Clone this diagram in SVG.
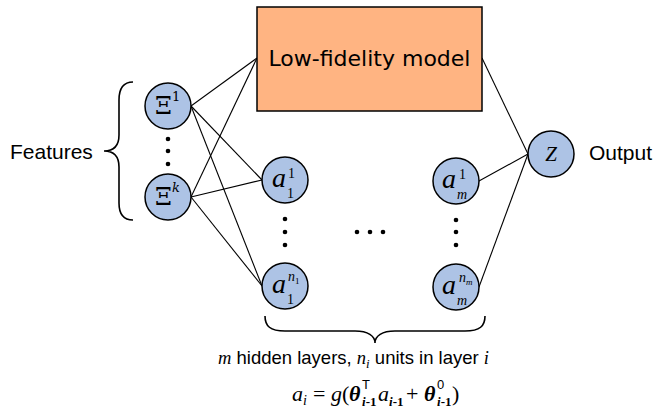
<svg xmlns="http://www.w3.org/2000/svg" width="655" height="409" viewBox="0 0 655 409">
<style>
.node{fill:#adc3e5;stroke:#000;stroke-width:1.5}
.box{fill:#ffb482;stroke:#000;stroke-width:1.5}
.edge{stroke:#000;stroke-width:1.1;fill:none}
.brace{stroke:#000;stroke-width:1.6;fill:none}
.dot{fill:#000}
.sans{font-family:"Liberation Sans",Arial,sans-serif;fill:#000}
.serif{font-family:"Liberation Serif","Times New Roman",serif;fill:#000}
.dv{font-family:"DejaVu Serif",serif;fill:#000}
.it{font-style:italic}
</style>
<rect width="655" height="409" fill="#fff"/>
<g id="connectors">
<line class="edge" x1="191" y1="106" x2="257" y2="58"/>
<line class="edge" x1="191" y1="197" x2="257" y2="58"/>
<line class="edge" x1="191" y1="106" x2="262" y2="180"/>
<line class="edge" x1="191" y1="106" x2="262" y2="286"/>
<line class="edge" x1="191" y1="197" x2="262" y2="180"/>
<line class="edge" x1="191" y1="197" x2="262" y2="286"/>
<line class="edge" x1="482" y1="58" x2="528" y2="154"/>
<line class="edge" x1="479" y1="181" x2="528" y2="154"/>
<line class="edge" x1="479" y1="287" x2="528" y2="154"/>
</g>
<g id="lowfi">
<rect class="box" x="257" y="7" width="225" height="104"/>
<text x="369.5" y="66" text-anchor="middle" font-family="DejaVu Sans,sans-serif" font-size="22">Low-fidelity model</text>
</g>
<g id="xi1">
<circle class="node" cx="168" cy="106" r="23"/>
<text class="dv" x="155" y="114" font-size="24">Ξ</text>
<text class="dv" x="172" y="101" font-size="13">1</text>
</g>
<g id="xik">
<circle class="node" cx="168" cy="197" r="23"/>
<text class="dv" x="155" y="205" font-size="24">Ξ</text>
<text class="dv it" x="172" y="192" font-size="13">k</text>
</g>
<g id="xidots">
<circle class="dot" cx="168" cy="139" r="2.3"/>
<circle class="dot" cx="168" cy="151" r="2.3"/>
<circle class="dot" cx="168" cy="164" r="2.3"/>
</g>
<g id="a11">
<circle class="node" cx="285" cy="180" r="23"/>
<text class="serif it" x="272" y="187" font-size="28">a</text>
<text class="serif" x="288" y="178" font-size="14">1</text>
<text class="serif" x="287" y="198" font-size="14">1</text>
</g>
<g id="a1n">
<circle class="node" cx="285" cy="286" r="23"/>
<text class="serif it" x="272" y="293" font-size="28">a</text>
<text class="serif it" x="288" y="281" font-size="14">n</text>
<text class="serif" x="295" y="284" font-size="9">1</text>
<text class="serif" x="287" y="304" font-size="14">1</text>
</g>
<g id="a1dots">
<circle class="dot" cx="285" cy="219" r="2.3"/>
<circle class="dot" cx="285" cy="232" r="2.3"/>
<circle class="dot" cx="285" cy="245" r="2.3"/>
</g>
<g id="middots">
<circle class="dot" cx="357" cy="232" r="2.3"/>
<circle class="dot" cx="370" cy="232" r="2.3"/>
<circle class="dot" cx="383" cy="232" r="2.3"/>
</g>
<g id="am1">
<circle class="node" cx="456" cy="181" r="23"/>
<text class="serif it" x="442" y="188" font-size="28">a</text>
<text class="serif" x="459" y="179" font-size="14">1</text>
<text class="serif it" x="457" y="199" font-size="14">m</text>
</g>
<g id="amn">
<circle class="node" cx="456" cy="287" r="23"/>
<text class="serif it" x="442" y="294" font-size="28">a</text>
<text class="serif it" x="459" y="282" font-size="14">n</text>
<text class="serif it" x="466" y="285" font-size="9">m</text>
<text class="serif it" x="457" y="305" font-size="14">m</text>
</g>
<g id="amdots">
<circle class="dot" cx="456" cy="220" r="2.3"/>
<circle class="dot" cx="456" cy="232" r="2.3"/>
<circle class="dot" cx="456" cy="245" r="2.3"/>
</g>
<g id="z">
<circle class="node" cx="551" cy="154" r="23"/>
<text class="serif it" x="551" y="161" font-size="21" text-anchor="middle">Z</text>
</g>
<g id="labels">
<text class="sans" x="589" y="160" font-size="21">Output</text>
<text class="sans" x="10" y="159" font-size="21">Features</text>
<path class="brace" d="M133,82 C123,82 119,88 119,100 L119,135 C119,146 113,151 104,151 C113,151 119,156 119,167 L119,203 C119,214 123,220 133,220"/>
<path class="brace" d="M265,316 C265,326 270,331 285,331 L355,331 C368,331 375,336 375,343 C375,336 382,331 395,331 L465,331 C480,331 485,326 485,316"/>
<text class="sans" x="218" y="364" font-size="18.5"><tspan class="serif it">m</tspan> hidden layers, <tspan class="serif it">n</tspan><tspan class="serif it" font-size="13" dy="4">i</tspan><tspan dy="-4"> units in layer </tspan><tspan class="serif it">i</tspan></text>
</g>
<g id="formula" class="serif">
<text class="it" x="292" y="401" font-size="22">a</text>
<text class="it" x="303" y="405" font-size="14">i</text>
<text x="313" y="401" font-size="22">=</text>
<text class="it" x="331" y="401" font-size="22">g</text>
<text x="342" y="401" font-size="22">(</text>
<text class="it" x="349" y="401" font-size="22" font-weight="bold">θ</text>
<text class="sans" x="362" y="389" font-size="13">T</text>
<text x="362" y="406" font-size="13" font-weight="bold"><tspan class="it">i</tspan>-1</text>
<text class="it" x="378" y="401" font-size="22">a</text>
<text x="389" y="406" font-size="13" font-weight="bold"><tspan class="it">i</tspan>-1</text>
<text x="406" y="401" font-size="22">+</text>
<text class="it" x="424" y="401" font-size="22" font-weight="bold">θ</text>
<text class="sans" x="437" y="389" font-size="13">0</text>
<text x="437" y="406" font-size="13" font-weight="bold"><tspan class="it">i</tspan>-1</text>
<text x="452" y="401" font-size="22">)</text>
</g>
</svg>
